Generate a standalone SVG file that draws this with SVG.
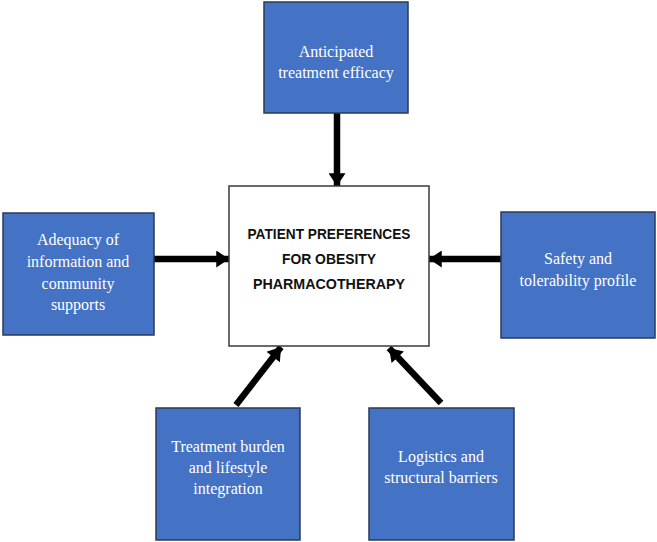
<svg xmlns="http://www.w3.org/2000/svg" width="657" height="542" viewBox="0 0 657 542">
<defs>
<style>
.box{fill:#4472C4;stroke:#2B3A57;stroke-width:1.5}
.center{fill:#ffffff;stroke:#3a3a3a;stroke-width:1.5}
.lbl{font-family:"Liberation Serif","Times New Roman",serif;font-size:16px;fill:#ffffff;text-anchor:middle}
.title{font-family:"Liberation Sans",Arial,sans-serif;font-weight:bold;font-size:15px;fill:#111111;text-anchor:middle}
.arr{stroke:#000000;stroke-width:6.5;fill:none;marker-end:url(#ah)}
</style>
<marker id="ah" markerUnits="userSpaceOnUse" markerWidth="17" markerHeight="17" viewBox="0 0 12 16" refX="12" refY="8" orient="auto">
<path d="M0,0 L12,8 L0,16 Z" fill="#000000"/>
</marker>
</defs>
<g id="connectors">
<line class="arr" x1="337" y1="113" x2="337" y2="186"/>
<line class="arr" x1="154" y1="259" x2="229" y2="259"/>
<line class="arr" x1="501" y1="259" x2="429" y2="259"/>
<line class="arr" x1="236" y1="405" x2="281" y2="347"/>
<line class="arr" x1="441" y1="403" x2="389" y2="348"/>
</g>
<g id="center">
<rect class="center" x="229" y="186" width="200" height="160"/>
<text class="title" x="329" y="239" textLength="163" lengthAdjust="spacingAndGlyphs">PATIENT PREFERENCES</text>
<text class="title" x="329" y="264" textLength="94" lengthAdjust="spacingAndGlyphs">FOR OBESITY</text>
<text class="title" x="329" y="289" textLength="152" lengthAdjust="spacingAndGlyphs">PHARMACOTHERAPY</text>
</g>
<g id="efficacy">
<rect class="box" x="264" y="2" width="144" height="111"/>
<text class="lbl" x="336" y="57">Anticipated</text>
<text class="lbl" x="336" y="78">treatment efficacy</text>
</g>
<g id="information">
<rect class="box" x="3" y="213" width="151" height="122"/>
<text class="lbl" x="78" y="245">Adequacy of</text>
<text class="lbl" x="78" y="267">information and</text>
<text class="lbl" x="78" y="289">community</text>
<text class="lbl" x="78" y="310">supports</text>
</g>
<g id="safety">
<rect class="box" x="501" y="212" width="154" height="126"/>
<text class="lbl" x="578" y="264">Safety and</text>
<text class="lbl" x="578" y="286">tolerability profile</text>
</g>
<g id="burden">
<rect class="box" x="156" y="408" width="144" height="132"/>
<text class="lbl" x="228" y="452">Treatment burden</text>
<text class="lbl" x="228" y="473">and lifestyle</text>
<text class="lbl" x="228" y="494">integration</text>
</g>
<g id="logistics">
<rect class="box" x="369" y="408" width="145" height="132"/>
<text class="lbl" x="441" y="462">Logistics and</text>
<text class="lbl" x="441" y="483">structural barriers</text>
</g>
</svg>
